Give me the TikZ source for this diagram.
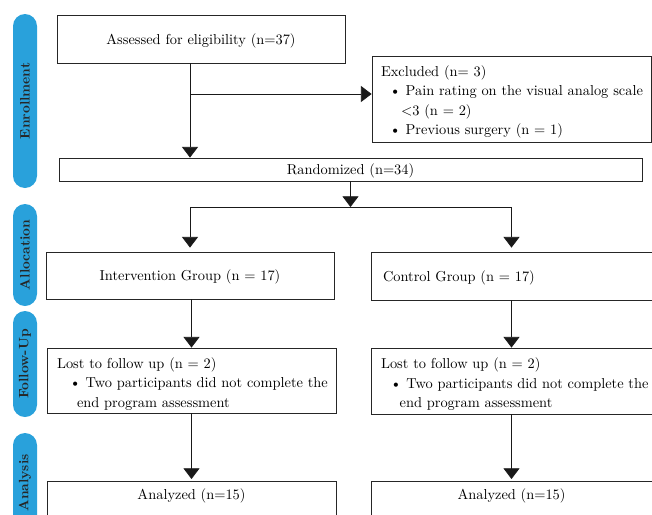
\documentclass[tikz,border=0pt]{standalone}
\usetikzlibrary{arrows.meta}
\definecolor{phaseblue}{HTML}{29A1DB}
\begin{document}
\begin{tikzpicture}[x=0.75pt,y=-0.75pt,%
% common options for blocks:
block/.style = {draw=black!85, line width=0.6pt, align=center, inner sep=0,
            text depth=0pt, font=\fontsize{10.8}{14.5}\selectfont},
% blocks with the text on the left:
lblock/.style = {draw=black!85, line width=0.6pt, align=left, inner sep=0,
            font=\fontsize{10.8}{14.5}\selectfont},
% common options for the phase labels:
phase/.style = {fill=phaseblue, rounded corners=9pt, rotate=90, inner sep=0,
            minimum height=18pt, text=black!85, font=\bfseries\fontsize{10.2}{12}\selectfont},
% common options for the arrows:
arr/.style = {-{Triangle[width=12pt,length=8pt]}, line width=0.6pt, black!90}]
\useasboundingbox (0,0) rectangle (652,514);
\clip (0,0) rectangle (652,514);
\node[phase, minimum width=130.5pt] (P1) at (25,101) {Enrollment};
\node[phase, minimum width=76.5pt] (P2) at (25,255) {Allocation};
\node[phase, minimum width=79.5pt] (P3) at (25,364) {Follow-Up};
\node[phase, minimum width=75pt] (P4) at (25,483) {Analysis};
\node[block, minimum width=216pt, minimum height=36pt] (E0) at (201,39) {Assessed for eligibility (n=37)};
\node[lblock, text width=195.75pt, inner xsep=6.75pt, minimum height=64.5pt] (E1) at (511.5,99)
  {\rule{0pt}{12.5pt}Excluded (n= 3)\\\hspace*{6.5pt}\mbox{\textbullet\ Pain rating on the visual analog scale}\\
   \hspace*{15pt}$<$3 (n = 2)\\\hspace*{6.5pt}\textbullet\ Previous surgery (n = 1)};
\node[block, minimum width=437.25pt, minimum height=17.25pt] (R) at (350.5,169.5) {Randomized (n=34)};
\node[block, minimum width=216pt, minimum height=35.25pt] (A1) at (190,275.5) {Intervention Group (n = 17)};
\node[lblock, text depth=0pt, text width=192.75pt, inner xsep=9pt, minimum height=36pt] (B1) at (511.5,276) {Control Group (n = 17)};
\node[lblock, text width=201.75pt, inner xsep=7.5pt, minimum height=48.75pt] (A2) at (191.5,380.5)
  {\rule{0pt}{13pt}Lost to follow up (n = 2)\\\hspace*{9.5pt}\mbox{\textbullet\ Two participants did not complete the}\\
   \hspace*{15pt}end program assessment};
\node[lblock, text width=195.75pt, inner xsep=7.5pt, minimum height=49.5pt] (B2) at (511.5,381)
  {\rule{0pt}{13pt}Lost to follow up (n = 2)\\\hspace*{7pt}\mbox{\textbullet\ Two participants did not complete the}\\
   \hspace*{14pt}end program assessment};
\node[block, anchor=north, minimum width=216.75pt, minimum height=36pt, inner ysep=3.5pt,
  text height=10pt, text depth=19pt] (A3) at (191.5,481) {Analyzed (n=15)};
\node[block, anchor=north, minimum width=210.75pt, minimum height=36pt, inner ysep=3.5pt,
  text height=10pt, text depth=19pt] (B3) at (511.5,481) {Analyzed (n=15)};
\coordinate (X) at (190,94);
\coordinate (S) at (350.5,207);
\draw[arr] (E0.south -| A1.north) to (R.north -| A1.north);
\draw[arr] (X) to (X -| E1.west);
\draw[arr] (R.south) to (S);
\draw[line width=0.6pt, black!90] (S -| A1.north) to (S -| B1.north);
\draw[arr, shorten >=3pt] (S -| A1.north) to (A1.north);
\draw[arr, shorten >=3pt] (S -| B1.north) to (B1.north);
\draw[arr] (A1.south -| A2.north) to (A2.north);
\draw[arr] (B1.south) to (B2.north);
\draw[arr, shorten >=1.5pt] (A2.south) to (A3.north);
\draw[arr, shorten >=1.5pt] (B2.south) to (B3.north);
\end{tikzpicture}
\end{document}
